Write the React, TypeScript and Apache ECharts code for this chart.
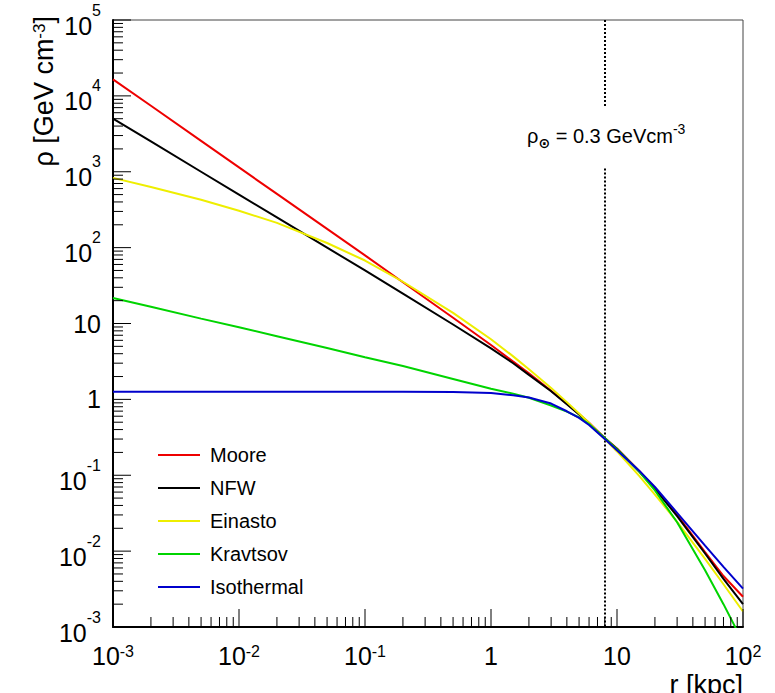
import React, { useEffect, useRef } from "react";
import * as echarts from "echarts";

// Galactocentric radius r [kpc]
const radii = [0.001, 0.002, 0.005, 0.01, 0.02, 0.05, 0.1, 0.2, 0.5, 1, 1.5, 2, 3, 4, 5, 6, 8, 10, 15, 20, 30, 50, 70, 100];
// Dark matter density profiles rho [GeV cm^-3]
const moore = [16500, 7400, 2550, 1140, 510, 177, 79, 35, 11.9, 5.2, 3.14, 2.2, 1.3, 0.875, 0.64, 0.492, 0.31, 0.225, 0.114, 0.068, 0.03, 0.0097, 0.0047, 0.0025];
const nfw = [5000, 2510, 1000, 500, 250, 100, 50, 24.8, 9.7, 4.7, 2.99, 2.1, 1.28, 0.86, 0.63, 0.476, 0.305, 0.222, 0.112, 0.066, 0.029, 0.0093, 0.0043, 0.002];
const einasto = [830, 631, 427, 306, 212, 115, 67.6, 35.5, 13.8, 6.2, 3.69, 2.5, 1.41, 0.92, 0.65, 0.488, 0.3, 0.206, 0.098, 0.0557, 0.0243, 0.0079, 0.00366, 0.0016];
const kravtsov = [21.7, 16.6, 11.6, 8.9, 6.8, 4.75, 3.6, 2.75, 1.86, 1.38, 1.19, 1.05, 0.83, 0.69, 0.58, 0.474, 0.31, 0.22, 0.112, 0.063, 0.024, 0.0056, 0.002, 0.00063];
const isothermal = [1.26, 1.26, 1.26, 1.26, 1.26, 1.26, 1.26, 1.26, 1.25, 1.21, 1.13, 1.06, 0.88, 0.697, 0.57, 0.46, 0.3, 0.213, 0.115, 0.07, 0.032, 0.0118, 0.0062, 0.0032];

const seriesNames = ["Moore", "NFW", "Einasto", "Kravtsov", "Isothermal"];
const seriesValues = [moore, nfw, einasto, kravtsov, isothermal];
const seriesColors = ["#ee0000", "#000000", "#eeee00", "#00d400", "#0000cc"];

// Solar position marker
const solarRadius = 8;
const dottedTopEnd = 7000;
const dottedBottomStart = 1100;

// Axis ranges / tick decades
const xMin = 0.001, xMax = 100, yMin = 0.001, yMax = 100000;
const xDecades = [-3, -2, -1, 0, 1, 2];
const yDecades = [-3, -2, -1, 0, 1, 2, 3, 4, 5];
const minorSteps = [2, 3, 4, 5, 6, 7, 8, 9];

const FONT = "'Liberation Sans', Arial, Helvetica, sans-serif";

function buildTicks(decades: number[]) {
  const out: number[][] = [];
  decades.forEach((d, i) => {
    out.push([Math.pow(10, d), 1]);
    if (i < decades.length - 1) minorSteps.forEach((m) => out.push([m * Math.pow(10, d), 0]));
  });
  return out;
}

function expOf(v: number) {
  return Math.round(Math.log10(v));
}

export default function App() {
  const ref = useRef<HTMLDivElement>(null);
  useEffect(() => {
    const chart = echarts.init(ref.current!, null, { renderer: "svg" });

    const lineSeries: any[] = seriesNames.map((name, i) => ({
      name,
      type: "line",
      data: radii.map((r, j) => [r, seriesValues[i][j]]),
      showSymbol: false,
      symbol: "none",
      lineStyle: { color: seriesColors[i], width: 2 },
      itemStyle: { color: seriesColors[i] },
      clip: true,
      z: 3 + i,
      ...(i === 0
        ? {
            markLine: {
              silent: true,
              symbol: "none",
              label: { show: false },
              lineStyle: { color: "#000", type: [2, 2], width: 2 },
              data: [
                [{ coord: [solarRadius, yMax] }, { coord: [solarRadius, dottedTopEnd] }],
                [{ coord: [solarRadius, dottedBottomStart] }, { coord: [solarRadius, yMin] }],
              ],
            },
          }
        : {}),
    }));

    const yTicks = buildTicks(yDecades).map((t) => [xMin, t[0], t[1]]);
    const xTicks = buildTicks(xDecades).map((t) => [t[0], yMin, t[1]]);

    const tickSeries = [
      {
        type: "custom",
        silent: true,
        data: yTicks,
        z: 10,
        renderItem: (params: any, api: any) => {
          const p = api.coord([api.value(0), api.value(1)]);
          const len = api.value(2) ? 18 : 10;
          return {
            type: "line",
            shape: { x1: p[0], y1: p[1], x2: p[0] + len, y2: p[1] },
            style: { stroke: "#000", lineWidth: 1 },
          };
        },
      },
      {
        type: "custom",
        silent: true,
        data: xTicks,
        z: 10,
        renderItem: (params: any, api: any) => {
          const p = api.coord([api.value(0), api.value(1)]);
          const len = api.value(2) ? 18 : 10;
          return {
            type: "line",
            shape: { x1: p[0], y1: p[1], x2: p[0], y2: p[1] - len },
            style: { stroke: "#000", lineWidth: 1 },
          };
        },
      },
    ];

    const option: any = {
      animation: false,
      backgroundColor: "#fff",
      grid: {
        left: 113,
        top: 20,
        right: 32,
        bottom: 66,
        show: true,
        borderColor: "#444",
        borderWidth: 1,
        containLabel: false,
      },
      legend: {
        data: seriesNames,
        orient: "vertical",
        left: 158,
        top: 444,
        icon: "rect",
        itemWidth: 42,
        itemHeight: 2,
        itemGap: 11,
        padding: 0,
        textStyle: { fontFamily: FONT, fontSize: 20, color: "#000", lineHeight: 22, padding: [0, 0, 0, 5] },
        selectedMode: false,
      },
      xAxis: {
        type: "log",
        logBase: 10,
        min: xMin,
        max: xMax,
        interval: 1,
        axisLine: { show: true, lineStyle: { color: "#000", width: 2 } },
        axisTick: { show: false },
        splitLine: { show: false },
        minorTick: { show: false },
        axisLabel: {
          margin: 16,
          showMinLabel: true,
          showMaxLabel: true,
          color: "#000",
          fontFamily: FONT,
          fontSize: 25,
          formatter: (v: number) => {
            const e = expOf(v);
            if (e === 0) return "{b|1}";
            if (e === 1) return "{b|10}";
            return "{b|10}{s|" + e + "}";
          },
          rich: {
            b: { fontFamily: FONT, fontSize: 25, lineHeight: 26, color: "#000" },
            s: { fontFamily: FONT, fontSize: 16, lineHeight: 12, verticalAlign: "top", color: "#000" },
          },
        },
      },
      yAxis: {
        type: "log",
        logBase: 10,
        min: yMin,
        max: yMax,
        interval: 1,
        axisLine: { show: true, lineStyle: { color: "#000", width: 2 } },
        axisTick: { show: false },
        splitLine: { show: false },
        minorTick: { show: false },
        axisLabel: {
          margin: 12,
          showMinLabel: true,
          showMaxLabel: true,
          color: "#000",
          fontFamily: FONT,
          fontSize: 25,
          formatter: (v: number) => {
            const e = expOf(v);
            if (e === 0) return "{c|1}";
            if (e === 1) return "{c|10}";
            return "{b|10}{s|" + e + "}";
          },
          rich: {
            c: { fontFamily: FONT, fontSize: 25, lineHeight: 26, color: "#000" },
            b: { fontFamily: FONT, fontSize: 25, lineHeight: 26, verticalAlign: "bottom", color: "#000" },
            s: { fontFamily: FONT, fontSize: 16, lineHeight: 36, verticalAlign: "top", color: "#000" },
          },
        },
      },
      graphic: [
        {
          type: "text",
          x: 44,
          y: 16,
          rotation: Math.PI / 2,
          silent: true,
          style: {
            text: "ρ [GeV cm{s|-3}]",
            align: "right",
            verticalAlign: "middle",
            fill: "#000",
            font: "27px " + FONT,
            rich: {
              s: { fontFamily: FONT, fontSize: 17, lineHeight: 12, verticalAlign: "top", fill: "#000" },
            },
          },
        },
        {
          type: "text",
          x: 743,
          y: 671,
          silent: true,
          style: {
            text: "r [kpc]",
            align: "right",
            verticalAlign: "top",
            fill: "#000",
            font: "27px " + FONT,
          },
        },
        {
          type: "text",
          x: 527,
          y: 122,
          silent: true,
          style: {
            text: "{t|ρ}{o|⊙}{t| = 0.3 GeVcm}{s|-3}",
            align: "left",
            verticalAlign: "top",
            fill: "#000",
            rich: {
              t: { fontFamily: FONT, fontSize: 20, lineHeight: 28, fill: "#000" },
              o: { fontFamily: "'DejaVu Sans', sans-serif", fontSize: 14, fontWeight: "bold", lineHeight: 6, verticalAlign: "bottom", fill: "#000" },
              s: { fontFamily: FONT, fontSize: 14, lineHeight: 10, verticalAlign: "top", fill: "#000" },
            },
          },
        },
      ],
      series: [...lineSeries, ...tickSeries],
    };

    chart.setOption(option);
    return () => chart.dispose();
  }, []);

  return (
    <div
      ref={ref}
      style={{ position: "absolute", left: 0, top: 0, width: 775, height: 693, background: "#fff" }}
    />
  );
}
